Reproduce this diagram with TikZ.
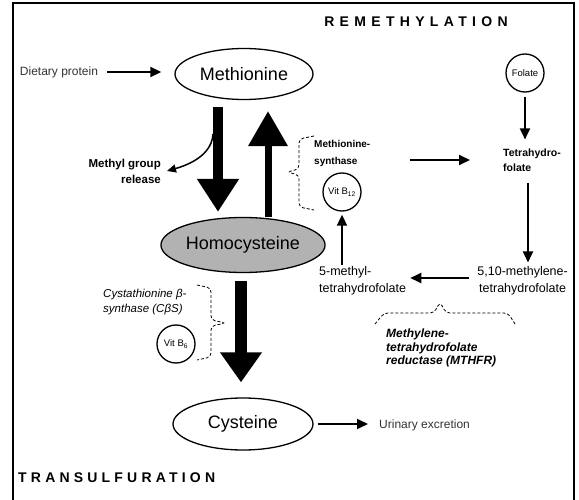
\documentclass[tikz,border=0pt]{standalone}
\usepackage{fontspec}
\setmainfont{Liberation Sans}
\newfontfamily\remfont[LetterSpace=38]{Liberation Sans}
\newfontfamily\trfont[LetterSpace=30]{Liberation Sans}
\usetikzlibrary{arrows.meta,shapes.geometric,calc}
\begin{document}
\begin{tikzpicture}[x=1pt,y=-1pt,
  every node/.style={inner sep=1pt},
  oval/.style={draw, ellipse, line width=1.3pt, minimum width=138pt, minimum height=51pt,
    font=\fontsize{18}{20}\selectfont},
  vit/.style={draw, circle, line width=1.3pt, minimum size=38pt, inner sep=0pt,
    font=\fontsize{9.5}{10}\selectfont},
  thinarrow/.style={line width=1.8pt, -{Triangle[length=11pt,width=10pt]}},
  bracestyle/.style={line width=0.8pt, densely dashed, rounded corners=4pt},
  medtext/.style={font=\fontsize{12.5}{17}\selectfont, align=left},
]
\useasboundingbox (0,0) rectangle (579,500);
% frame
\draw[line width=1.2pt] (13,500) -- (13,3) -- (574,3) -- (574,500);

% titles
\node (remeth) at (416,22) {\remfont\bfseries\fontsize{14}{16}\selectfont REMETHYLATION};
\node[anchor=west] (trans) at (17,478) {\trfont\bfseries\fontsize{14}{16}\selectfont TRANSULFURATION};

% main nodes
\node[oval] (meth) at (244,74) {Methionine};
\node[oval, fill=gray!60, minimum width=140pt, minimum height=55pt] (homo) at (243,245) {Homocysteine};
\node[oval, minimum width=140pt, minimum height=52pt] (cys) at (243,424) {Cysteine};

\node[text=black!80, font=\fontsize{12}{14}\selectfont] (dp) at (59,72) {Dietary protein};
\node[anchor=east, align=right, font=\bfseries\fontsize{11.5}{16}\selectfont] (mgr) at (162,171) {Methyl group\\release};

\node[vit] (fol) at (525,73) {Folate};
\node[anchor=west, align=left, font=\bfseries\fontsize{10.5}{15}\selectfont] (thf) at (502,160) {Tetrahydro-\\folate};
\node[anchor=west, align=left, font=\bfseries\fontsize{10}{17}\selectfont] (ms) at (313,153) {Methionine-\\synthase};
\node[vit] (b12) at (342,192) {Vit B\textsubscript{12}};

\node[anchor=west, medtext] (m5) at (318,281) {5-methyl-\\tetrahydrofolate};
\node[anchor=east, medtext, align=center] (m510) at (569,281) {5,10-methylene-\\tetrahydrofolate};
\node[anchor=west, align=left, font=\bfseries\itshape\fontsize{12}{13.5}\selectfont] (mthfr) at (385,348)
  {Methylene-\\tetrahydrofolate\\reductase (MTHFR)};

\node[anchor=west, align=left, font=\itshape\fontsize{11.5}{15}\selectfont] (cbs) at (102,302)
  {Cystathionine β-\\synthase (CβS)};
\node[vit] (b6) at (176,344) {Vit B\textsubscript{6}};

\node[anchor=west, text=black!80, font=\fontsize{12}{14}\selectfont] (ue) at (378,425) {Urinary excretion};

% big arrows
\draw[line width=10pt, -{Triangle[length=33pt,width=40pt]}, shorten <=7pt, shorten >=5pt]
  ([xshift=-26pt]meth.south) -- ([xshift=-25pt]homo.north);
\draw[line width=7pt, -{Triangle[length=35pt,width=38pt]}, shorten >=11pt]
  ([xshift=25pt]homo.north) -- ([xshift=24pt]meth.south);
\draw[line width=12pt, -{Triangle[length=30pt,width=40pt]}, shorten <=8pt, shorten >=15pt]
  ([xshift=-2pt]homo.south) -- ([xshift=-2pt]cys.north);

% thin arrows
\draw[thinarrow, shorten <=8pt, shorten >=13pt] (dp.east) -- (dp.east -| meth.west);
\draw[thinarrow, shorten <=4pt, shorten >=8pt] (fol.south) -- (fol.south |- thf.north);
\draw[thinarrow, shorten <=38pt, shorten >=32pt] (ms.east |- thf.west) -- (thf.west);
\draw[thinarrow, shorten <=10pt, shorten >=3pt] ([xshift=26pt]thf.south west) -- ([xshift=26pt]thf.south west |- m510.north);
\draw[thinarrow, shorten <=7pt, shorten >=3pt] ([yshift=3pt]m510.west) -- ([yshift=3pt]m510.west -| m5.east);
\draw[thinarrow, shorten >=3pt] (m5.north -| b12.south) -- (b12.south);
\draw[thinarrow, shorten <=4pt, shorten >=10pt] (cys.east) -- (cys.east -| ue.west);

\coordinate (mgrs) at (213,134);
\draw[line width=1.5pt, -{Triangle[length=9pt,width=8pt]}]
  (mgrs) .. controls (212,152) and (195,163) .. ([xshift=5pt]mgr.east);

% braces
\draw[bracestyle] (314,136) -- (299,139) -- (299,169) -- (287,172) -- (299,175) -- (299,207) -- (314,210);
\draw[bracestyle] (197,285) -- (211,288) -- (211,320) -- (226,323) -- (211,326) -- (211,357) -- (197,360);
\draw[bracestyle] (375,324) -- (384,313) -- (434,313) -- (440,302) -- (446,313) -- (508,313) -- (515,324);
\end{tikzpicture}
\end{document}
